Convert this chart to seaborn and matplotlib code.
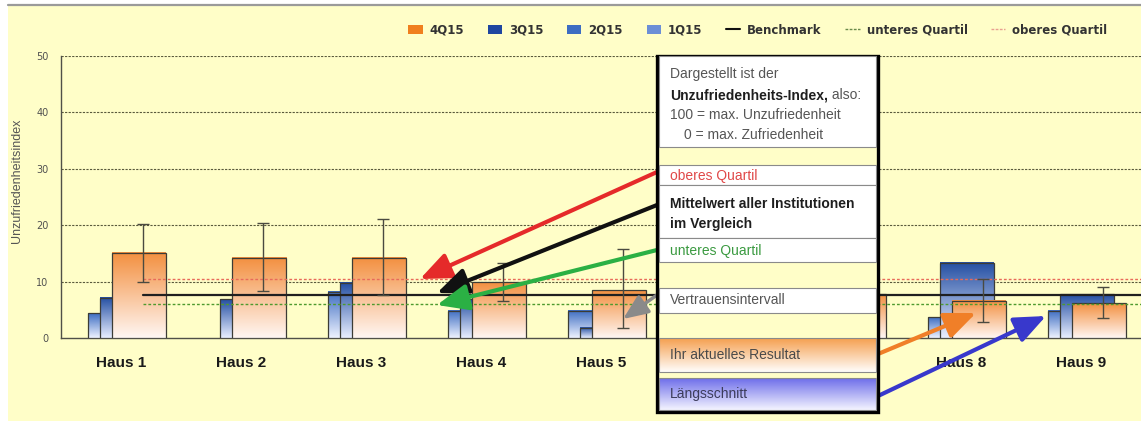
import numpy as np
import pandas as pd
import matplotlib
matplotlib.use("Agg")
import matplotlib.pyplot as plt
import seaborn as sns
from matplotlib.patches import Rectangle, FancyArrowPatch
from matplotlib.lines import Line2D
from matplotlib.colors import to_rgb
from matplotlib.text import Annotation

# ---------------- data ----------------
haeuser = ["Haus 1", "Haus 2", "Haus 3", "Haus 4", "Haus 5", "Haus 6", "Haus 7", "Haus 8", "Haus 9"]
quartale = ["1Q15", "2Q15", "3Q15", "4Q15"]
q1_15 = [np.nan] * 9
q2_15 = [4.4, np.nan, 8.2, 4.8, 4.8, 5.5, 6.0, 3.7, 4.8]
q3_15 = [7.1, 6.9, 9.8, 6.9, 1.8, 6.5, 7.0, 13.3, 7.8]
q4_15 = [15.1, 14.2, 14.2, 9.9, 8.5, 8.0, 7.8, 6.6, 6.2]
ci_low = [9.9, 8.3, 7.6, 6.6, 1.8, 4.5, 4.2, 2.8, 3.5]
ci_high = [20.2, 20.4, 21.1, 13.3, 15.8, 12.0, 11.5, 10.5, 9.0]
benchmark = 7.6
unteres_quartil = 6.0
oberes_quartil = 10.5
y_ticks = [0, 10, 20, 30, 40, 50]

W, H = 1141, 421
BG = "#FFFEC8"
bar_top = {"1Q15": "#6C8FD6", "2Q15": "#3D6DC2", "3Q15": "#244FA3", "4Q15": "#F39040"}
bar_bot = {"1Q15": "#F2F5FF", "2Q15": "#EEF2FF", "3Q15": "#E8EEFF", "4Q15": "#FFF6F2"}
legend_col = {"1Q15": "#6C8FD6", "2Q15": "#3D6DC2", "3Q15": "#1F46A0", "4Q15": "#F07F1E"}

df = pd.DataFrame({
    "Haus": haeuser * 4,
    "Quartal": np.repeat(quartale, len(haeuser)),
    "Wert": q1_15 + q2_15 + q3_15 + q4_15,
}).fillna(0.0)

sns.set_style("white")
plt.rcParams["font.family"] = ["DejaVu Sans"]

fig = plt.figure(figsize=(W / 100, H / 100), dpi=100)
fig.patch.set_facecolor("white")
# background panel
fig.add_artist(Rectangle((8 / W, 0), (W - 8) / W, (H - 6) / H, transform=fig.transFigure,
                         facecolor=BG, edgecolor="none", zorder=-5))
fig.add_artist(Line2D([8 / W, 1], [1 - 5 / H, 1 - 5 / H], transform=fig.transFigure,
                      color="#9a9a9a", lw=1.6, zorder=-4))

ax = fig.add_axes([61 / W, 83 / H, 1080 / W, 282 / H])
ax.set_facecolor("none")

sns.barplot(data=df, x="Haus", y="Wert", hue="Quartal", hue_order=quartale, order=haeuser,
            width=0.4, dodge=True, errorbar=None, legend=False, ax=ax,
            palette=[legend_col[q] for q in quartale])


def grad(top, bottom, n=64):
    t = np.array(to_rgb(top)); b = np.array(to_rgb(bottom))
    f = np.linspace(0, 1, n)[:, None]
    return (t * (1 - f) + b * f)[:, None, :]


for i, (q, cont) in enumerate(zip(quartale, ax.containers)):
    g = grad(bar_top[q], bar_bot[q])
    for p in cont.patches:
        p.set_x(p.get_x() - 0.175)
        p.set_width(0.45)
        h = p.get_height()
        if not h or np.isnan(h) or h <= 0:
            p.set_visible(False)
            continue
        x0 = p.get_x()
        ax.imshow(g, extent=(x0, x0 + p.get_width(), 0, h), aspect="auto",
                  interpolation="bilinear", zorder=2 + i, origin="upper")
        p.set_facecolor("none")
        p.set_edgecolor("#3c3c36")
        p.set_linewidth(0.9)
        p.set_zorder(2 + i + 0.5)

ax.set_xlim(-0.5, len(haeuser) - 0.5)
ax.set_ylim(0, 50)

# error bars (Vertrauensintervall) at the 4Q15 bars
orange = ax.containers[3].patches
ex = [p.get_x() + p.get_width() / 2 + 0.03 for p in orange]
lo = np.array(ci_low); hi = np.array(ci_high)
ax.errorbar(ex, (lo + hi) / 2, yerr=(hi - lo) / 2, fmt="none", ecolor="#4a4a40",
            elinewidth=1.0, capsize=4, capthick=1.0, zorder=9)

# benchmark and quartile lines
x0l, x1l = ax.get_xlim()
xmin = (ex[0] - x0l) / (x1l - x0l)
ax.axhline(oberes_quartil, xmin=xmin, xmax=1, color="#E86A5A", lw=1.0, ls=(0, (2, 1.5)), zorder=8)
ax.axhline(benchmark, xmin=xmin, xmax=1, color="#202020", lw=1.6, zorder=8)
ax.axhline(unteres_quartil, xmin=xmin, xmax=1, color="#4E9A2E", lw=1.0, ls=(0, (2, 1.5)), zorder=8)

# grid
for yv in y_ticks[1:]:
    ax.axhline(yv, color="#5a5a3c", lw=0.8, ls=(0, (2, 1.2)), zorder=1)

ax.set_yticks(y_ticks)
ax.set_yticklabels([str(v) for v in y_ticks])
ax.tick_params(axis="y", length=0, pad=9, labelsize=7, labelcolor="#505050")
ax.tick_params(axis="x", which="major", length=0, pad=13)
ax.set_xticks(range(len(haeuser)))
ax.set_xticklabels(haeuser, fontfamily="Liberation Sans", fontweight="bold", fontsize=11, color="#1a1a1a")
# the label of "Haus 6" lies fully under the explanation box in the original
ax.get_xticklabels()[5].set_visible(False)
ax.set_xticks(np.arange(len(haeuser) + 1) - 0.5, minor=True)
ax.tick_params(axis="x", which="minor", length=6, width=1, color="#505050", direction="out")
ax.set_xlabel("")
ax.set_ylabel("Unzufriedenheitsindex", fontfamily="Liberation Sans", fontsize=9, color="#555555")
ax.yaxis.set_label_coords(-0.035, 0.557)
for s in ["top", "right"]:
    ax.spines[s].set_visible(False)
for s in ["left", "bottom"]:
    ax.spines[s].set_color("#505048")
    ax.spines[s].set_linewidth(1.0)

# legend
handles = [Rectangle((0, 0), 1, 1, facecolor=legend_col[q], edgecolor="none") for q in ["4Q15", "3Q15", "2Q15", "1Q15"]]
handles += [Line2D([], [], color="#111111", lw=1.5),
            Line2D([], [], color="#6a8a4a", lw=1.0, ls=(0, (2, 1))),
            Line2D([], [], color="#E8A090", lw=1.0, ls=(0, (2, 1)))]
labels = ["4Q15", "3Q15", "2Q15", "1Q15", "Benchmark", "unteres Quartil", "oberes Quartil"]
fig.legend(handles, labels, loc="center", bbox_to_anchor=(758 / W, 1 - 30 / H), ncol=7,
           frameon=False, prop={"weight": "bold", "size": 8.5}, labelcolor="#333333",
           handlelength=1.2, handleheight=0.8, handletextpad=0.6, columnspacing=2.0)

# ---------------- overlay: explanation box and arrows ----------------
ov = fig.add_axes([0, 0, 1, 1], zorder=5)
ov.set_xlim(0, W)
ov.set_ylim(H, 0)
ov.axis("off")
ov.patch.set_alpha(0)

arrows = [
    ((657, 172), (420, 279), "#E52A2A", 3.0, 10),
    ((657, 205), (437, 293), "#111111", 3.0, 10),
    ((657, 250), (437, 305), "#2BB044", 3.0, 10),
    ((657, 295), (623, 319), "#8A8A8A", 2.5, 8),
    ((878, 354), (976, 313), "#F07F28", 3.0, 10),
    ((878, 396), (1046, 316), "#3838CC", 3.0, 10),
]
for a, b, c, lw, ms in arrows:
    ov.add_patch(FancyArrowPatch(a, b, arrowstyle="-|>,head_length=1.9,head_width=0.8",
                                 mutation_scale=ms, color=c, lw=lw, shrinkA=0, shrinkB=0, zorder=1))

ov.add_patch(Rectangle((657, 56), 221, 356, facecolor=BG, edgecolor="black", lw=2.4, zorder=3))
rows = [(56, 147), (165, 185), (185, 238), (238, 262), (288, 313)]
for y0, y1 in rows:
    ov.add_patch(Rectangle((659, y0), 217, y1 - y0, facecolor="white", edgecolor="#8a8a8a", lw=0.8, zorder=4))
# gradient rows
for (y0, y1), top, bot in [((338, 372), "#F5A050", "#FFFDFB"), ((378, 410), "#6E6EEA", "#F4F4FF")]:
    ov.imshow(grad(top, bot), extent=(659, 876, y1, y0), aspect="auto", interpolation="bilinear",
              origin="upper", zorder=4)
    ov.add_patch(Rectangle((659, y0), 217, y1 - y0, facecolor="none", edgecolor="#8a8a8a", lw=0.8, zorder=4.5))
ov.set_xlim(0, W)
ov.set_ylim(H, 0)

tf = dict(fontfamily="Liberation Sans", fontsize=10, va="center", ha="left", zorder=6)
ov.text(670, 74, "Dargestellt ist der", color="#555555", **tf)
t_bold = ov.text(670, 95, "Unzufriedenheits-Index,", color="#1e1e1e", fontweight="bold", **tf)
ov.add_artist(Annotation(" also:", xy=(1, 0), xycoords=t_bold, va="bottom", ha="left",
                         fontfamily="Liberation Sans", fontsize=10, color="#555555", zorder=6))
ov.text(670, 115, "100 = max. Unzufriedenheit", color="#555555", **tf)
ov.text(684, 135, "0 = max. Zufriedenheit", color="#555555", **tf)
ov.text(670, 176, "oberes Quartil", color="#E04848", **tf)
ov.text(670, 204, "Mittelwert aller Institutionen", color="#1e1e1e", fontweight="bold", **tf)
ov.text(670, 224, "im Vergleich", color="#1e1e1e", fontweight="bold", **tf)
ov.text(670, 251, "unteres Quartil", color="#3A9A40", **tf)
ov.text(670, 300, "Vertrauensintervall", color="#555555", **tf)
ov.text(670, 355, "Ihr aktuelles Resultat", color="#4a4a4a", **tf)
ov.text(670, 394, "Längsschnitt", color="#3c3c5a", **tf)

fig.savefig("out.png", dpi=100, facecolor="white")
